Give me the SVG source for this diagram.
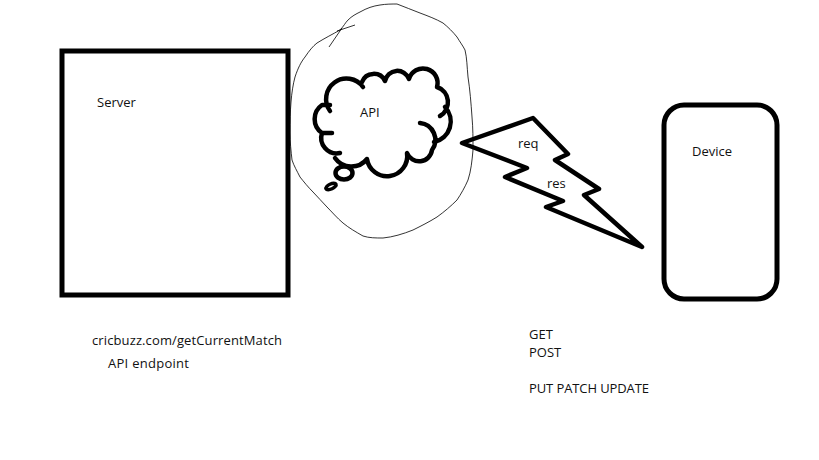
<svg xmlns="http://www.w3.org/2000/svg" width="819" height="460" viewBox="0 0 819 460">
<style>
.thick{fill:none;stroke:#000;stroke-width:4.5;stroke-linecap:round;stroke-linejoin:round}
.thin{fill:none;stroke:#000;stroke-width:.8}
text{font-family:"Open Sans","Noto Sans",sans-serif;font-size:13px;fill:#111}
</style>
<rect width="819" height="460" fill="#fff"/>
<g id="server"><rect class="thick" x="62" y="51" width="226" height="244" style="stroke-linecap:butt;stroke-linejoin:miter;stroke-width:5"/><text x="97" y="107">Server</text></g>
<g id="api">
<path class="thin" d="M290 133C290 110 291 92 295 77C298 68 301 62 305 57C309 51 313 46 317 43C325 38 333 34 340 30C344 26 345 23 348 20C352 16 356 14 360 12C367 8 373 6 380 5C386 4 392 4 397 4C405 7 412 10 420 13C428 16 436 19 443 23C448 27 453 32 457 37C460 42 463 46 465 50C467 58 467 67 468 77C470 90 471 103 472 117C473 128 473 139 473 150C472 161 471 171 468 180C465 187 461 194 457 200C451 206 444 212 437 217C429 222 421 226 413 230C403 234 393 237 383 238C376 238 369 238 363 236C356 232 349 228 343 223C337 218 332 212 327 207C322 202 318 197 313 192C308 187 304 182 300 177C297 171 294 166 292 160C291 151 290 142 290 133Z"/>
<path class="thin" d="M329 47L342 28M337 31L355 25"/>
<path class="thick" d="M330 111A20 20 0 0 1 363 87M362 82A12.5 12.5 0 0 1 385 81A12.5 12.5 0 0 1 409 79A14.5 14.5 0 0 1 437 87A16 16 0 0 1 440 116M445 107A21 21 0 0 1 434 142M420 123A17 17 0 0 1 432 150A13 13 0 0 1 407 153A20 20 0 0 1 367 159A20 20 0 0 1 335 158M340 153A15.5 15.5 0 0 1 322 133L332 133M322 133A17 17 0 0 1 322 105L330 105"/>
<ellipse class="thick" cx="344" cy="173" rx="8.5" ry="6.5"/>
<ellipse cx="331" cy="186.500" rx="5.500" ry="2.500" transform="rotate(-25 331 186.500)" style="fill:none;stroke:#000;stroke-width:3.500"/>
<text x="360" y="117">API</text>
</g>
<g id="connectors"><path class="thick" d="M462 143L533 118L568 154L555 160L599 189L584 195L642 247L546 207L563 201L505 177L527 168Z"/><text x="518" y="148">req</text><text x="547" y="188">res</text></g>
<g id="device"><rect class="thick" x="664" y="105" width="113" height="194" rx="20" ry="20" style="stroke-width:5"/><text x="692" y="156">Device</text></g>
<g id="labels">
<text x="92" y="345" textLength="190">cricbuzz.com/getCurrentMatch</text>
<text x="108" y="368" textLength="81">API endpoint</text>
<text x="529" y="339">GET</text>
<text x="529" y="357">POST</text>
<text x="529" y="393" textLength="120">PUT PATCH UPDATE</text>
</g>
</svg>
